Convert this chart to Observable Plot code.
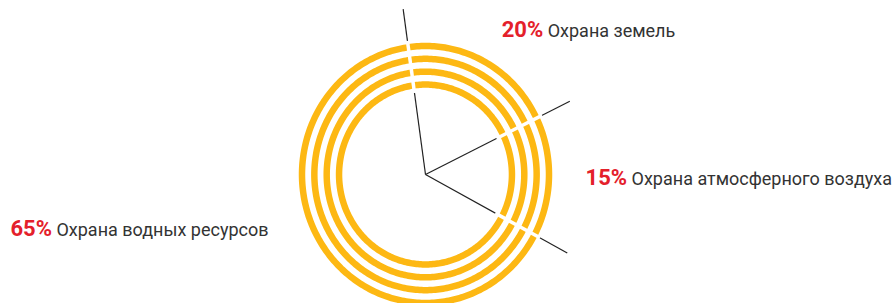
<!DOCTYPE html>
<html>
<head>
<meta charset="utf-8">
<script src="https://cdn.jsdelivr.net/npm/d3@7"></script>
<script src="https://cdn.jsdelivr.net/npm/@observablehq/plot@0.6"></script>
<style>
  html, body { margin: 0; padding: 0; background: #ffffff; }
  #chart { width: 892px; height: 303px; overflow: hidden; }
  #chart svg { display: block; }
</style>
</head>
<body>
<div id="chart"></div>
<script>
// ---- data ----
const categories = ["Охрана земель", "Охрана атмосферного воздуха", "Охрана водных ресурсов"];
const shares = [20, 15, 65];          // percent
const startAngle = -8;                // bearing (deg, clockwise from top) of the first boundary
const ringIndex = [0, 1, 2, 3];       // four concentric rings

// ---- styling / layout ----
const W = 892, H = 303;
const ORANGE = "#FDB813", RED = "#E4202B", TEXT = "#333333", LINE = "#222222";
const cx = 425, cy = 174, kx = 123.5, ky = 128.5;   // centre (px) and px per unit
const rad = d => d * Math.PI / 180;
const polar = (deg, r) => ({x: r * Math.sin(rad(deg)), y: r * Math.cos(rad(deg))});
const ringR = i => 0.7 + 0.1 * i;

// slices
let acc = startAngle;
const slices = categories.map((name, i) => {
  const a0 = acc, a1 = acc + shares[i] * 3.6;
  acc = a1;
  return {name, pct: shares[i], a0, a1, mid: (a0 + a1) / 2};
});

// ring geometry
const ringPts = ringIndex.flatMap(i =>
  d3.range(0, 361, 1).map(a => ({ring: i, ...polar(a, ringR(i))})));

// boundary rays
const rays = slices.map(s => {
  const end = polar(s.a0, 1.3), g0 = polar(s.a0, 0.64), g1 = polar(s.a0, 1.05);
  return {x2: end.x, y2: end.y, gx1: g0.x, gy1: g0.y, gx2: g1.x, gy2: g1.y};
});

// labels
const labels = slices.map(s => {
  const p = polar(s.mid, 1.28);
  return {...p, right: Math.sin(rad(s.mid)) >= 0, text: s.pct + "% " + s.name};
});

const FONT = "Roboto, 'Noto Sans', sans-serif";
const chart = Plot.plot({
  width: W,
  height: H,
  margin: 0,
  style: {background: "#ffffff", overflow: "hidden"},
  x: {domain: [-cx / kx, (W - cx) / kx], axis: null},
  y: {domain: [-(H - cy) / ky, cy / ky], axis: null},
  marks: [
    Plot.link(rays, {x1: 0, y1: 0, x2: "x2", y2: "y2", stroke: LINE, strokeWidth: 1.2}),
    Plot.line(ringPts, {x: "x", y: "y", z: "ring", stroke: ORANGE, strokeWidth: 6.5, curve: "linear"}),
    Plot.link(rays, {x1: "gx1", y1: "gy1", x2: "gx2", y2: "gy2", stroke: "#ffffff", strokeWidth: 3.5}),
    Plot.text(labels.filter(d => d.right), {x: "x", y: "y", text: "text", textAnchor: "start", dx: 2, dy: 1.5,
      fill: TEXT, fontSize: 18, fontFamily: FONT}),
    Plot.text(labels.filter(d => !d.right), {x: "x", y: "y", text: "text", textAnchor: "end", dx: -27.5, dy: -39,
      fill: TEXT, fontSize: 18, fontFamily: FONT})
  ]
});

// style the percentage part of each label
d3.select(chart).selectAll("text").each(function () {
  const t = this.textContent;
  const m = t.match(/^(\d+%)\s(.*)$/);
  if (!m) return;
  const sel = d3.select(this);
  sel.text(null);
  sel.append("tspan").attr("fill", RED).attr("font-weight", 700).attr("font-size", 22).text(m[1]);
  sel.append("tspan").text("\u00a0" + m[2]);
});

document.getElementById("chart").appendChild(chart);
</script>
</body>
</html>
